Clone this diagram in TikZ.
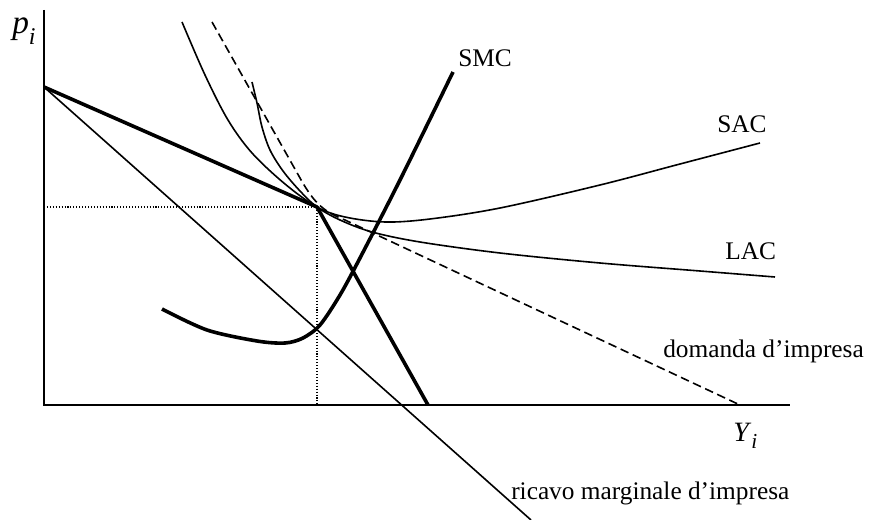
\documentclass[tikz,border=0pt]{standalone}
\usepackage{fontspec}
\setmainfont{Liberation Serif}
\begin{document}
\begin{tikzpicture}[x=0.75pt,y=-0.75pt,
  axis/.style={line width=1.5pt},
  thincurve/.style={line width=1.2pt, line join=round},
  thickcurve/.style={line width=2.7pt, line join=round},
  demandline/.style={line width=1.2pt, dash pattern=on 6.5pt off 3.5pt},
  guide/.style={line width=0.8pt, dash pattern=on 0.8pt off 1.4pt},
  lab/.style={font=\fontsize{19}{23}\selectfont, inner sep=0pt},
  mlab/.style={font=\fontsize{21}{25}\selectfont, inner sep=0pt}]
\useasboundingbox (0,0) rectangle (870,520);
\coordinate (O) at (44,405);
\coordinate (Ytop) at (44,10);
\coordinate (Xend) at (790,405);
\coordinate (A) at (44,87);
\coordinate (T) at (317,207);
\coordinate (Tx) at (317,405);
\coordinate (Ty) at (44,207);
\coordinate (MRend) at (428,405);
\coordinate (RMend) at (531,520);
\coordinate (Dtop) at (212,22);
\coordinate (Dend) at (740,405);

% axes
\draw[axis] (Ytop) -- (O) -- (Xend);
% dotted guides
\draw[guide] (Ty) -- (T) -- (Tx);
% thin marginal revenue line
\draw[thincurve] (A) -- (RMend);
% thick firm demand / marginal revenue
\draw[thickcurve] (A) -- (T) -- (MRend);
% dashed demand
\draw[demandline] (Dtop) -- (300,178) .. controls (315,205) and (325,212) .. (345,220) -- (Dend);
% SAC
\draw[thincurve] plot[smooth, tension=0.55] coordinates {(182,22) (205,75) (228,120) (252,153) (285,184) (317,207) (345,217) (385,222) (430,219) (500,208) (600,185) (680,164) (760,143)};
% LAC
\draw[thincurve] plot[smooth, tension=0.55] coordinates {(252,82) (257,103) (262,127) (270,150) (283,171) (300,191) (317,207) (340,220) (372,232) (420,242) (500,253) (600,263) (700,271) (775,277)};
% SMC
\draw[thickcurve] plot[smooth, tension=0.5] coordinates {(162,309) (207,330) (257,341) (285,343) (303,338) (320,325) (340,295) (360,258) (400,180) (453,72)};

% labels
\node[font=\fontsize{25}{29}\selectfont, inner sep=0pt, anchor=base west] (plab) at (12,34) {\textit{p}\raisebox{-0.33em}{\fontsize{18}{20}\selectfont\textit{i}}};
\node[mlab, anchor=base west] (ylab) at (733,441) {\textit{Y}\raisebox{-0.25em}{\fontsize{16}{18}\selectfont\textit{i}}};
\node[lab, anchor=base west] (smclab) at (458,67) {SMC};
\node[lab, anchor=base west] (saclab) at (717,133) {SAC};
\node[lab, anchor=base west] (laclab) at (725,259) {LAC};
\node[lab, anchor=base west] (dlab) at (663,357) {domanda d’impresa};
\node[lab, anchor=base west] (rlab) at (511,499) {ricavo marginale d’impresa};
\end{tikzpicture}
\end{document}
